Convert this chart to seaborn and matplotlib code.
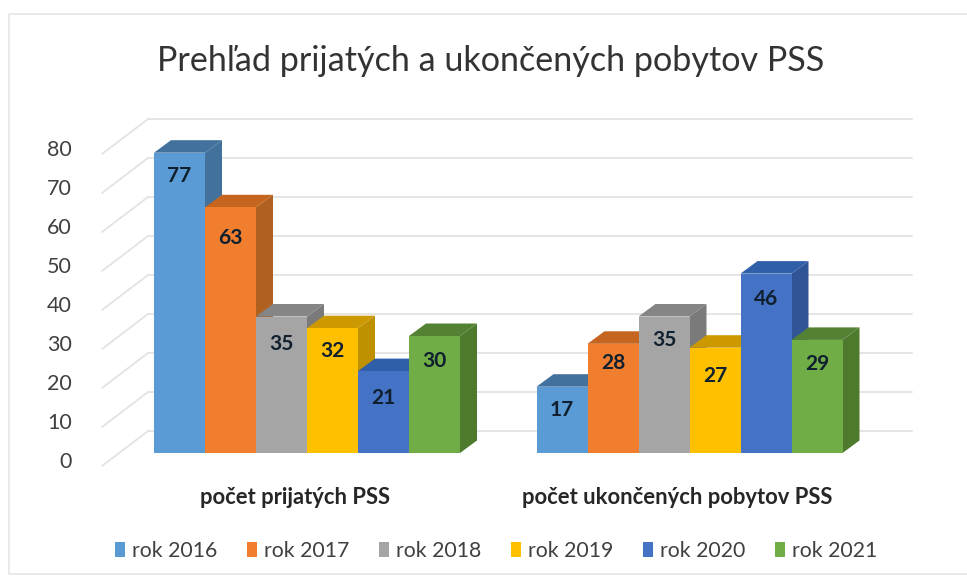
import seaborn as sns
import pandas as pd
import matplotlib
matplotlib.use('Agg')
import matplotlib.pyplot as plt
from matplotlib.lines import Line2D
from matplotlib.patches import Polygon
from matplotlib.transforms import ScaledTranslation

TITLE = 'Prehľad prijatých a ukončených pobytov PSS'
CATEGORIES = ['počet prijatých PSS', 'počet ukončených pobytov PSS']
YEARS = ['rok 2016', 'rok 2017', 'rok 2018', 'rok 2019', 'rok 2020', 'rok 2021']
PRIJATE = [77, 63, 35, 32, 21, 30]
UKONCENE = [17, 28, 35, 27, 46, 29]
Y_TICKS = [0, 10, 20, 30, 40, 50, 60, 70, 80]

FRONT_COLORS = ['#5B9BD5', '#F07E2E', '#A5A5A5', '#FFC000', '#4472C4', '#70AD47']
SIDE_COLORS = ['#41719C', '#B0601F', '#7A7A7A', '#BF9000', '#2F5597', '#4E7A2E']
TOP_COLORS = ['#41719C', '#C5651F', '#858585', '#CC9A00', '#2F5FA8', '#548235']

# how far below the bar top each value label sits, pixels
LABEL_DROP = [[23, 31, 28, 23, 27, 25], [23, 19, 24, 28, 25, 24]]

W, H = 967, 584
DPI = 100
PX_PER_CAT = 382.5
PX_PER_UNIT = 3.9

sns.set_theme(style='white')
plt.rcParams['font.family'] = ['Lato', 'DejaVu Sans']

df = pd.DataFrame({
    'kategoria': [c for c in CATEGORIES for _ in YEARS],
    'rok': YEARS * 2,
    'pocet': PRIJATE + UKONCENE,
})

fig = plt.figure(figsize=(W / DPI, H / DPI), dpi=DPI, facecolor='white')
ax = fig.add_axes([115.75 / W, (H - 453) / H, 765 / W, 312 / H])

sns.barplot(data=df, x='kategoria', y='pocet', hue='rok', palette=FRONT_COLORS,
            width=0.8, saturation=1, ax=ax, linewidth=0, legend=True)
ax.set_xlim(-0.5, 1.5)
ax.set_ylim(0, 80)
ax.set_xlabel('')
ax.set_ylabel('')
sns.despine(ax=ax, left=True, bottom=True)
ax.patch.set_alpha(0)

# offsets in data units
dx = 17 / PX_PER_CAT
dy = 12.5 / PX_PER_UNIT

# back wall grid and the slanted side wall
wall_dy = 22 / PX_PER_UNIT
wall_x0 = (148 - 307) / PX_PER_CAT
wall_x1 = (912 - 307) / PX_PER_CAT
side_x0 = (102 - 307) / PX_PER_CAT
side_dy = 35 / PX_PER_UNIT
GRID = '#E3E3E3'
for v in Y_TICKS:
    ax.plot([wall_x0, wall_x1], [v + wall_dy] * 2, color=GRID, lw=1.3, clip_on=False, zorder=1)
    ax.plot([side_x0, wall_x0], [v + wall_dy - side_dy, v + wall_dy], color=GRID, lw=1.3,
            clip_on=False, zorder=1)

# 3d faces on every bar, left to right so the next bar covers the previous side
order = 10
for cat in range(len(CATEGORIES)):
    for hue, cont in enumerate(ax.containers):
        bar = cont[cat]
        x0, x1 = bar.get_x(), bar.get_x() + bar.get_width()
        top = bar.get_height()
        ax.add_patch(Polygon([(x1, 0), (x1 + dx, dy), (x1 + dx, top + dy), (x1, top)],
                             closed=True, fc=SIDE_COLORS[hue], ec='none', clip_on=False, zorder=order))
        ax.add_patch(Polygon([(x0, top), (x0 + dx, top + dy), (x1 + dx, top + dy), (x1, top)],
                             closed=True, fc=TOP_COLORS[hue], ec='none', clip_on=False, zorder=order))
        bar.set_zorder(order + 1)
        bar.set_clip_on(False)
        order += 2
        ax.annotate(str(int(top)), ((x0 + x1) / 2, top), xytext=(0, -LABEL_DROP[cat][hue] * 72 / DPI),
                    textcoords='offset points', ha='center', va='center', fontsize=15,
                    fontweight='bold', color='#10202E', zorder=100)

# ticks
ax.set_yticks(Y_TICKS)
ax.tick_params(axis='y', length=0, pad=31.7, labelsize=15.5, labelcolor='#404040')
ax.tick_params(axis='x', length=0, pad=24.5, labelsize=15.8, labelcolor='#262626')
for label in ax.get_yticklabels():
    label.set_transform(label.get_transform() + ScaledTranslation(0, -7 / DPI, fig.dpi_scale_trans))
for label in ax.get_xticklabels():
    label.set_fontweight('bold')
    label.set_transform(label.get_transform() + ScaledTranslation(-12 / DPI, 0, fig.dpi_scale_trans))

# legend along the bottom
sns.move_legend(ax, 'center', bbox_to_anchor=(496 / W, (H - 551) / H), bbox_transform=fig.transFigure,
                ncol=6, frameon=False, title=None, fontsize=15.3, handlelength=0.47, handleheight=0.7,
                handletextpad=0.33, columnspacing=1.39, labelcolor='#404040')

fig.text(491 / W, (H - 61) / H, TITLE, ha='center', va='center', fontsize=24.6, color='#333333')

# faint chart frame, open on the right
FRAME = '#E6E6E6'
fx0, fx1, fy0, fy1 = 9 / W, 1, 1 - 574 / H, 1 - 14 / H
fig.add_artist(Line2D([fx1, fx0, fx0, fx1], [fy1, fy1, fy0, fy0], transform=fig.transFigure, color=FRAME, lw=1.2))

fig.savefig('out.png', dpi=DPI)
